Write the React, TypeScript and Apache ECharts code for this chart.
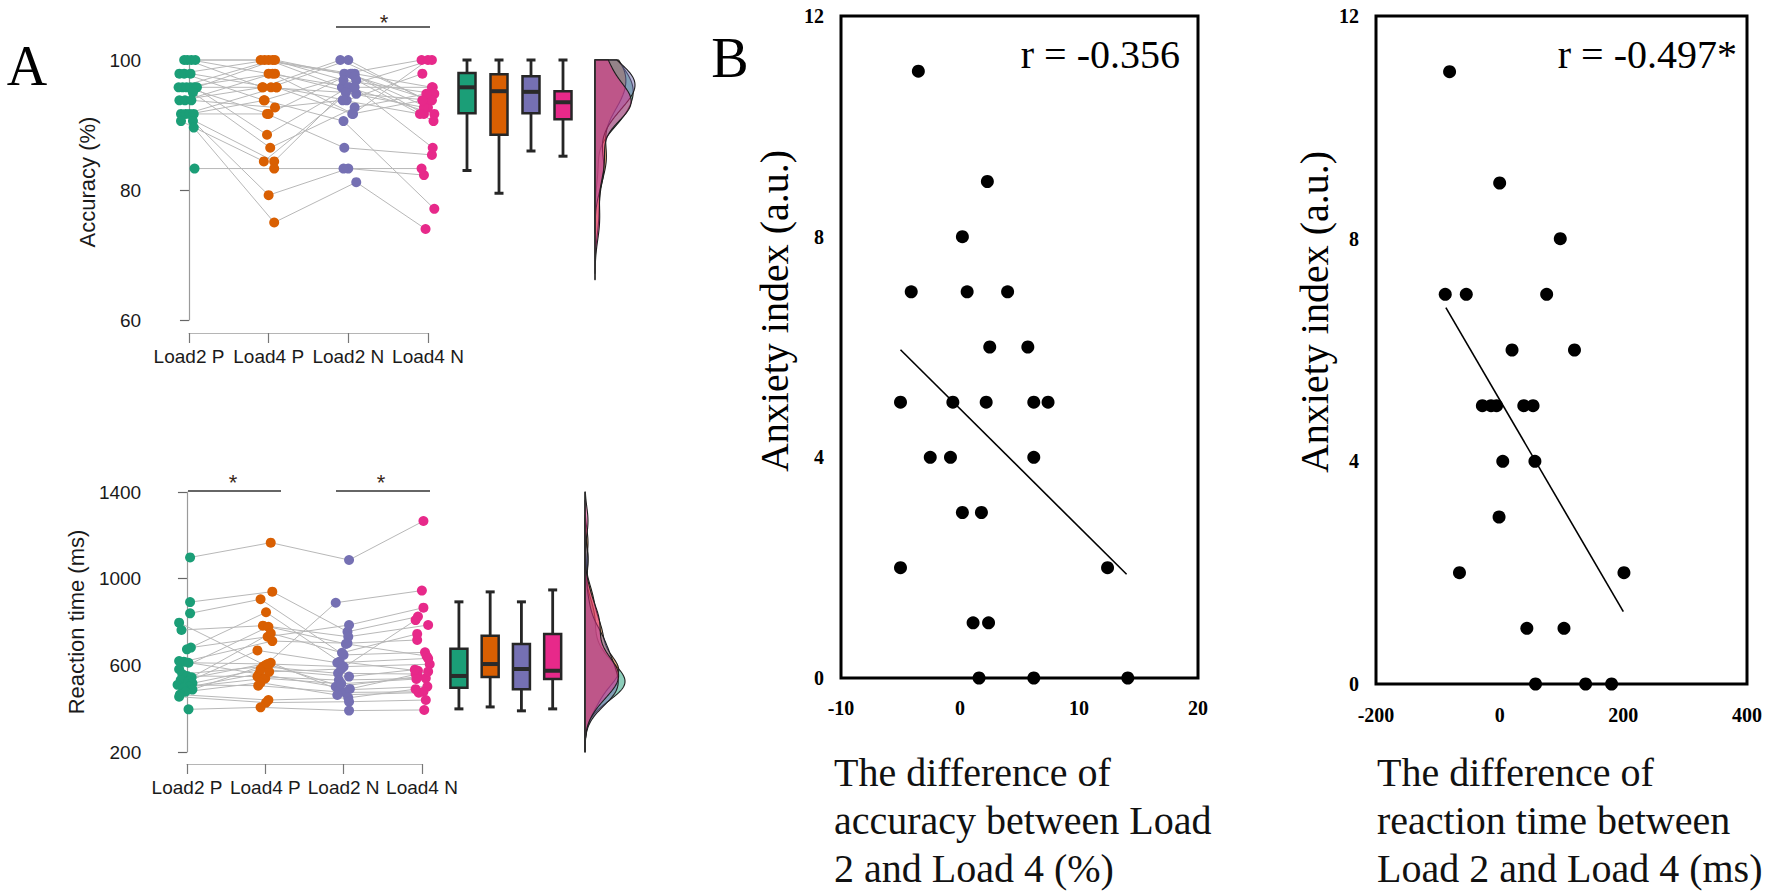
import React, { useEffect, useRef } from "react";
import * as echarts from "echarts";

// ---------- Panel A data ----------
const conditions = ["Load2 P", "Load4 P", "Load2 N", "Load4 N"];
const palette = ["#1b9e77", "#d95f02", "#7570b3", "#e7298a"];

// Accuracy (%) per subject (same index = same subject)
const accLoad2P = [100, 100, 100, 100, 97.9, 97.9, 97.9, 95.8, 95.8, 95.8, 95.8, 95.8, 95.8, 95, 93.8, 93.8, 93.8, 91.7, 91.7, 91.7, 91.7, 90.6, 90.6, 89.6, 83.3];
const accLoad4P = [100, 95.8, 97.9, 100, 100, 93.8, 95.8, 100, 97.9, 91.7, 95.8, 88.5, 100, 86.5, 95.8, 97.9, 92.7, 84.4, 95.8, 93.8, 91.7, 84.4, 79.2, 75, 83.3];
const accLoad2N = [97.9, 100, 95.8, 97.9, 95.8, 97.9, 100, 96.9, 94.8, 97.9, 93.8, 95.8, 97.5, 92.7, 95, 91.7, 93.8, 96.9, 91.7, 90.6, 86.5, 95.8, 83.3, 81.2, 83.3];
const accLoad4N = [100, 93.8, 95.8, 91.7, 100, 95.8, 93.8, 94.8, 93.8, 92.7, 97.9, 91.7, 93.8, 94.8, 92.7, 100, 91.7, 90.6, 93.8, 77.1, 85.4, 86.5, 82.3, 74, 83.3];

// Horizontal jitter of the dots (category units)
const accJitLoad2P = [-0.06, -0.02, 0.03, 0.08, -0.12, -0.06, 0.02, -0.13, -0.08, -0.03, 0.02, 0.07, 0.1, 0.05, -0.12, -0.05, 0.03, -0.1, -0.04, 0.01, 0.06, -0.1, 0.05, 0.06, 0.07];
const accJitLoad4P = [-0.1, -0.08, 0.0, -0.05, 0.0, -0.06, 0.03, 0.05, 0.08, 0.0, 0.1, -0.02, 0.08, 0.02, -0.07, 0.05, 0.08, 0.07, 0.1, -0.05, -0.02, -0.06, 0.0, 0.07, 0.07];
const accJitLoad2N = [-0.05, -0.1, 0.02, 0.05, -0.08, 0.08, 0.0, -0.06, 0.1, 0.03, -0.02, 0.0, 0.08, 0.08, -0.03, 0.06, -0.07, 0.1, 0.05, -0.06, -0.05, 0.08, 0.0, 0.1, -0.06];
const accJitLoad4N = [-0.08, 0.0, 0.06, -0.05, 0.05, 0.05, -0.03, 0.08, 0.03, 0.0, -0.07, 0.08, 0.05, -0.02, -0.05, 0.0, -0.1, 0.07, -0.07, 0.08, 0.05, 0.06, -0.05, -0.03, -0.08];

// Box stats [min, Q1, median, Q3, max]
const accBoxLoad2P = [83, 91.8, 95.8, 98, 100];
const accBoxLoad4P = [79.5, 88.5, 95.2, 97.8, 100];
const accBoxLoad2N = [86, 91.8, 95.1, 97.5, 100];
const accBoxLoad4N = [85.2, 90.9, 93.5, 95.2, 100];

// Reaction time (ms)
const rtLoad2P = [1098, 892, 840, 797, 763, 682, 674, 620, 617, 612, 582, 560, 551, 545, 532, 525, 517, 510, 501, 495, 488, 478, 465, 455, 397];
const rtLoad4P = [1166, 940, 905, 600, 783, 732, 845, 560, 712, 606, 778, 594, 548, 748, 612, 669, 582, 506, 540, 570, 606, 520, 440, 428, 406];
const rtLoad2N = [1086, 755, 648, 889, 732, 786, 617, 501, 702, 594, 699, 563, 532, 658, 486, 612, 548, 475, 515, 583, 491, 463, 450, 432, 391];
const rtLoad4N = [1266, 825, 660, 945, 786, 866, 575, 548, 717, 605, 643, 560, 540, 745, 502, 632, 580, 478, 537, 809, 571, 474, 490, 440, 394];

const rtJitLoad2P = [0.04, 0.04, 0.04, -0.1, -0.07, 0.05, 0.0, -0.1, -0.04, 0.02, -0.1, -0.06, 0.0, 0.06, -0.08, 0.02, 0.07, -0.12, 0.03, -0.05, 0.07, -0.02, -0.09, -0.1, 0.02];
const rtJitLoad4P = [0.07, 0.09, -0.06, 0.0, -0.03, 0.03, 0.01, -0.08, 0.09, 0.05, 0.04, -0.03, -0.1, 0.07, 0.07, -0.1, -0.06, -0.09, 0.0, 0.05, 0.03, -0.06, 0.04, 0.01, -0.06];
const rtJitLoad2N = [0.07, 0.05, 0.0, -0.1, 0.06, 0.07, -0.05, -0.1, 0.05, 0.0, 0.03, -0.07, -0.06, -0.02, -0.05, -0.08, 0.07, 0.02, -0.03, -0.03, 0.08, -0.08, 0.06, 0.07, 0.07];
const rtJitLoad4N = [0.02, -0.05, 0.04, 0.0, 0.08, 0.02, -0.05, -0.05, -0.06, 0.1, 0.06, -0.08, 0.05, -0.06, 0.07, 0.08, -0.09, 0.02, -0.07, -0.08, 0.08, -0.04, -0.08, 0.05, 0.03];

const rtBoxLoad2P = [399, 496, 551, 676, 893];
const rtBoxLoad4P = [408, 546, 606, 736, 939];
const rtBoxLoad2N = [390, 490, 583, 699, 893];
const rtBoxLoad4N = [399, 537, 575, 745, 948];

const accTicks = [60, 100, 20];
const rtTicks = [200, 1400, 400];

// ---------- Panel B data ----------
const accDiff = [-3.5, 2.3, 0.2, -4.1, 0.6, 4.0, 2.5, 5.7, -5.0, -0.6, 2.2, 6.2, 7.4, -2.5, -0.8, 6.2, 0.2, 1.8, -5.0, 12.4, 1.1, 2.4, 1.6, 6.2, 14.1];
const accAnx = [11, 9, 8, 7, 7, 7, 6, 6, 5, 5, 5, 5, 5, 4, 4, 4, 3, 3, 2, 2, 1, 1, 0, 0, 0];
const rtDiff = [-81, 0, 98, -88, -54, 76, 20, 121, -28, -14, -5, 39, 54, 5, 57, -1, -65, 201, 44, 104, 58, 139, 181];
const rtAnx = [11, 9, 8, 7, 7, 7, 6, 6, 5, 5, 5, 5, 5, 4, 4, 3, 2, 2, 1, 1, 0, 0, 0];
const accFitX = [-5, 14];
const accFitY = [5.95, 1.88];
const rtFitX = [-87, 200];
const rtFitY = [6.76, 1.3];
const accR = "r = -0.356";
const rtR = "r = -0.497*";

// ---------- helpers ----------
const SANS = '"Liberation Sans", Arial, sans-serif';
const SERIF = '"Liberation Serif", "Times New Roman", serif';

function rgba(hex: string, a: number) {
  const n = parseInt(hex.slice(1), 16);
  return `rgba(${(n >> 16) & 255},${(n >> 8) & 255},${n & 255},${a})`;
}

function kde(vals: number[], bw: number, lo: number, hi: number, steps: number) {
  const out: number[][] = [];
  for (let k = 0; k <= steps; k++) {
    const y = lo + ((hi - lo) * k) / steps;
    let s = 0;
    for (const v of vals) {
      const z = (y - v) / bw;
      s += Math.exp(-0.5 * z * z);
    }
    out.push([s / (vals.length * bw * Math.sqrt(2 * Math.PI)), y]);
  }
  return out;
}

function densityShapes(groups: number[][], bw: number, axMin: number, axMax: number) {
  const shapes = groups.map((g) => {
    const lo = Math.max(axMin, Math.min(...g) - 3 * bw);
    const hi = Math.min(axMax, Math.max(...g) + 3 * bw);
    const curve = kde(g, bw, lo, hi, 160);
    return { lo, hi, poly: [[0, lo], ...curve, [0, hi]] };
  });
  let dmax = 0;
  shapes.forEach((s) => s.poly.forEach((p) => (dmax = Math.max(dmax, p[0]))));
  const lo = Math.min(...shapes.map((s) => s.lo));
  const hi = Math.max(...shapes.map((s) => s.hi));
  return { shapes, dmax, lo, hi };
}

export default function App() {
  const ref = useRef<HTMLDivElement>(null);

  useEffect(() => {
    if (!ref.current) return;
    const chart = echarts.init(ref.current, undefined, { renderer: "svg" });

    const accGroups = [accLoad2P, accLoad4P, accLoad2N, accLoad4N];
    const accJit = [accJitLoad2P, accJitLoad4P, accJitLoad2N, accJitLoad4N];
    const accBox = [accBoxLoad2P, accBoxLoad4P, accBoxLoad2N, accBoxLoad4N];
    const rtGroups = [rtLoad2P, rtLoad4P, rtLoad2N, rtLoad4N];
    const rtJit = [rtJitLoad2P, rtJitLoad4P, rtJitLoad2N, rtJitLoad4N];
    const rtBox = [rtBoxLoad2P, rtBoxLoad4P, rtBoxLoad2N, rtBoxLoad4N];

    const accDens = densityShapes(accGroups, 2.6, accTicks[0], accTicks[1]);
    const rtDens = densityShapes(rtGroups, 65, rtTicks[0], rtTicks[1]);

    const grids: any[] = [
      { left: 157.1, top: 60, width: 302.7, height: 260 }, // 0 acc points
      { left: 189, top: 332, width: 239, height: 1 }, // 1 acc x axis
      { left: 451, top: 60, width: 128, height: 260 }, // 2 acc boxes
      { left: 595, top: 60, width: 40, height: 260 }, // 3 acc density
      { left: 157.2, top: 492, width: 296, height: 260 }, // 4 rt points
      { left: 187, top: 763, width: 235, height: 1 }, // 5 rt x axis
      { left: 443.3, top: 492, width: 125, height: 260 }, // 6 rt boxes
      { left: 585, top: 492, width: 40, height: 260 }, // 7 rt density
      { left: 841, top: 16, width: 357, height: 662, show: true, borderColor: "#000", borderWidth: 3, backgroundColor: "transparent" }, // 8
      { left: 1376, top: 16, width: 371, height: 668, show: true, borderColor: "#000", borderWidth: 3, backgroundColor: "transparent" }, // 9
    ];

    const hiddenVal = (gi: number, min: number, max: number) => ({
      type: "value", gridIndex: gi, min, max, show: false, splitLine: { show: false },
    });
    const hiddenCat = (gi: number) => ({
      type: "category", gridIndex: gi, data: conditions, show: false,
    });
    const axisOnlyX = (gi: number) => ({
      type: "value", gridIndex: gi, min: 0, max: 3, interval: 1,
      axisLine: { show: true, lineStyle: { color: "#b5b5b5", width: 1.2 } },
      axisTick: { show: true, length: 10, lineStyle: { color: "#777", width: 1.2 } },
      axisLabel: { formatter: (v: number) => conditions[v] ?? "", fontSize: 19, color: "#1a1a1a", fontFamily: SANS, margin: 14 },
      splitLine: { show: false },
    });
    const leftY = (gi: number, t: number[]) => ({
      type: "value", gridIndex: gi, min: t[0], max: t[1], interval: t[2],
      axisLine: { show: true, lineStyle: { color: "#9a9a9a", width: 1.2 } },
      axisTick: { show: true, length: 9, lineStyle: { color: "#666", width: 1.2 } },
      axisLabel: { formatter: (v: number) => String(v), fontSize: 19, color: "#1a1a1a", fontFamily: SANS, margin: 16 },
      splitLine: { show: false },
    });
    const bX = (gi: number, min: number, max: number, interval: number, margin: number) => ({
      type: "value", gridIndex: gi, min, max, interval,
      axisLine: { show: false }, axisTick: { show: false }, splitLine: { show: false },
      axisLabel: { formatter: (v: number) => String(v), fontSize: 20, fontWeight: "bold", fontFamily: SERIF, color: "#000", margin },
    });

    const xAxes: any[] = [
      hiddenVal(0, -0.4, 3.4),
      axisOnlyX(1),
      hiddenCat(2),
      hiddenVal(3, 0, accDens.dmax),
      hiddenVal(4, -0.38, 3.4),
      axisOnlyX(5),
      hiddenCat(6),
      hiddenVal(7, 0, rtDens.dmax),
      bX(8, -10, 20, 10, 20),
      bX(9, -200, 400, 200, 21),
    ];
    const yAxes: any[] = [
      leftY(0, accTicks),
      hiddenVal(1, 0, 1),
      hiddenVal(2, accTicks[0], accTicks[1]),
      hiddenVal(3, accTicks[0], accTicks[1]),
      leftY(4, rtTicks),
      hiddenVal(5, 0, 1),
      hiddenVal(6, rtTicks[0], rtTicks[1]),
      hiddenVal(7, rtTicks[0], rtTicks[1]),
      bX(8, 0, 12, 4, 17),
      bX(9, 0, 12, 4, 17),
    ];

    const series: any[] = [];

    const addRaincloud = (
      groups: number[][], jit: number[][], box: number[][], dens: any,
      gPts: number, gBox: number, gDen: number
    ) => {
      const n = groups[0].length;
      for (let s = 0; s < n; s++) {
        series.push({
          type: "line", xAxisIndex: gPts, yAxisIndex: gPts, silent: true, clip: false,
          symbol: "none", z: 1,
          lineStyle: { color: "#b8b8b8", width: 1 },
          data: groups.map((g, c) => [c + jit[c][s], g[s]]),
        });
      }
      groups.forEach((g, c) => {
        series.push({
          type: "scatter", xAxisIndex: gPts, yAxisIndex: gPts, silent: true, clip: false,
          symbolSize: 10, z: 3,
          itemStyle: { color: palette[c], opacity: 1 },
          data: g.map((v, s) => [c + jit[c][s], v]),
        });
      });
      series.push({
        type: "custom", xAxisIndex: gBox, yAxisIndex: gBox, silent: true, clip: false, z: 3,
        encode: { x: 0, y: [1, 2, 3, 4, 5] },
        data: box.map((b, i) => [i, ...b]),
        renderItem: (params: any, api: any) => {
          const i = api.value(0);
          const cx = api.coord([i, api.value(1)])[0];
          const yMin = api.coord([i, api.value(1)])[1];
          const yQ1 = api.coord([i, api.value(2)])[1];
          const yMed = api.coord([i, api.value(3)])[1];
          const yQ3 = api.coord([i, api.value(4)])[1];
          const yMax = api.coord([i, api.value(5)])[1];
          const bw = 17, cw = 9;
          const st = { stroke: "#262626", lineWidth: 2.8 };
          return {
            type: "group",
            children: [
              { type: "line", shape: { x1: cx, y1: yMax, x2: cx, y2: yQ3 }, style: st },
              { type: "line", shape: { x1: cx, y1: yQ1, x2: cx, y2: yMin }, style: st },
              { type: "line", shape: { x1: cx - cw / 2, y1: yMax, x2: cx + cw / 2, y2: yMax }, style: { ...st, lineWidth: 3 } },
              { type: "line", shape: { x1: cx - cw / 2, y1: yMin, x2: cx + cw / 2, y2: yMin }, style: { ...st, lineWidth: 3 } },
              { type: "rect", shape: { x: cx - bw / 2, y: yQ3, width: bw, height: yQ1 - yQ3 }, style: { fill: palette[params.dataIndex], stroke: "#262626", lineWidth: 2.5 } },
              { type: "line", shape: { x1: cx - bw / 2, y1: yMed, x2: cx + bw / 2, y2: yMed }, style: { stroke: "#2a2a2a", lineWidth: 4 } },
            ],
          };
        },
      });
      dens.shapes.forEach((sh: any, c: number) => {
        series.push({
          type: "custom", xAxisIndex: gDen, yAxisIndex: gDen, silent: true, clip: false, z: 2 + c * 0.1,
          encode: { x: 0, y: 1 },
          data: [[0, sh.lo]],
          renderItem: (_p: any, api: any) => ({
            type: "polygon",
            shape: { points: sh.poly.map((p: number[]) => api.coord(p)) },
            style: { fill: rgba(palette[c], 0.5), stroke: "#1e1e1e", lineWidth: 1.1 },
          }),
        });
      });
      series.push({
        type: "line", xAxisIndex: gDen, yAxisIndex: gDen, silent: true, clip: false,
        symbol: "none", z: 4, lineStyle: { color: "#333", width: 1.5 },
        data: [[0, dens.lo], [0, dens.hi]],
      });
    };

    addRaincloud(accGroups, accJit, accBox, accDens, 0, 2, 3);
    addRaincloud(rtGroups, rtJit, rtBox, rtDens, 4, 6, 7);

    // Panel B scatters
    series.push({
      type: "scatter", xAxisIndex: 8, yAxisIndex: 8, silent: true, clip: false,
      symbolSize: 13, itemStyle: { color: "#000", opacity: 1 }, z: 3,
      data: accDiff.map((x, i) => [x, accAnx[i]]),
    });
    series.push({
      type: "line", xAxisIndex: 8, yAxisIndex: 8, silent: true, symbol: "none",
      lineStyle: { color: "#000", width: 1.6 }, z: 2,
      data: accFitX.map((x, i) => [x, accFitY[i]]),
    });
    series.push({
      type: "scatter", xAxisIndex: 9, yAxisIndex: 9, silent: true, clip: false,
      symbolSize: 13, itemStyle: { color: "#000", opacity: 1 }, z: 3,
      data: rtDiff.map((x, i) => [x, rtAnx[i]]),
    });
    series.push({
      type: "line", xAxisIndex: 9, yAxisIndex: 9, silent: true, symbol: "none",
      lineStyle: { color: "#000", width: 1.6 }, z: 2,
      data: rtFitX.map((x, i) => [x, rtFitY[i]]),
    });

    const txt = (text: string, x: number, y: number, o: any = {}) => ({
      type: "text", x, y, rotation: o.rotation ?? 0, silent: true,
      style: {
        text, fill: o.fill ?? "#000", fontSize: o.fontSize ?? 20, fontFamily: o.fontFamily ?? SERIF,
        fontWeight: o.fontWeight ?? "normal", align: o.align ?? "center",
        verticalAlign: o.verticalAlign ?? "middle", lineHeight: o.lineHeight,
      },
    });
    const ln = (x1: number, y1: number, x2: number, y2: number) => ({
      type: "line", silent: true, shape: { x1, y1, x2, y2 }, style: { stroke: "#333", lineWidth: 1.6 },
    });

    const graphic: any[] = [
      txt("A", 27, 66, { fontSize: 56 }),
      txt("B", 730, 58, { fontSize: 56 }),
      txt("Accuracy (%)", 87, 182, { fontSize: 22, fontFamily: SANS, rotation: Math.PI / 2, fill: "#1a1a1a" }),
      txt("Reaction time (ms)", 76, 622, { fontSize: 22, fontFamily: SANS, rotation: Math.PI / 2, fill: "#1a1a1a" }),
      ln(336, 27, 430, 27),
      txt("*", 384, 22, { fontSize: 22, fontFamily: SANS, fill: "#3a2a1a" }),
      ln(188, 491, 281, 491),
      ln(336, 491, 430, 491),
      txt("*", 233, 482, { fontSize: 22, fontFamily: SANS, fill: "#3a2a1a" }),
      txt("*", 381, 482, { fontSize: 22, fontFamily: SANS, fill: "#3a2a1a" }),
      txt(accR, 1180, 54, { fontSize: 40, align: "right" }),
      txt(rtR, 1737, 54, { fontSize: 40, align: "right" }),
      txt("Anxiety index (a.u.)", 774, 311, { fontSize: 40, rotation: Math.PI / 2 }),
      txt("Anxiety index (a.u.)", 1314, 312, { fontSize: 40, rotation: Math.PI / 2 }),
      txt("The difference of\naccuracy between Load\n2 and Load 4 (%)", 834, 748, { fontSize: 40, align: "left", verticalAlign: "top", lineHeight: 48, fill: "#111" }),
      txt("The difference of\nreaction time between\nLoad 2 and Load 4 (ms)", 1377, 748, { fontSize: 40, align: "left", verticalAlign: "top", lineHeight: 48, fill: "#111" }),
    ];

    chart.setOption({
      animation: false,
      backgroundColor: "#fff",
      grid: grids,
      xAxis: xAxes,
      yAxis: yAxes,
      series,
      graphic,
    });

    return () => chart.dispose();
  }, []);

  return (
    <div
      ref={ref}
      style={{ position: "absolute", left: 0, top: 0, width: 1772, height: 896, background: "#fff" }}
    />
  );
}
